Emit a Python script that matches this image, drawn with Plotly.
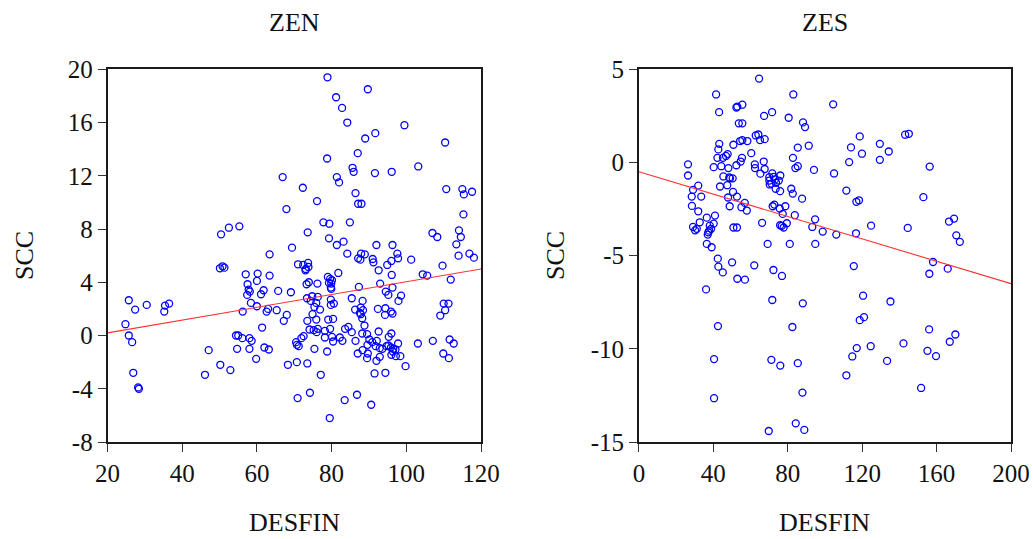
import plotly.graph_objects as go

# ZEN panel: DESFIN vs SCC
zen_desfin = [
    66.9, 67.9, 50.4, 52.5, 55.3, 69.4, 63.4,
    78.9, 89.7, 81.2, 82.8, 84.2, 99.5, 91.7, 89.0, 110.4, 87.0, 78.8, 103.2, 85.6,
    85.9, 91.6, 96.1, 81.4, 82.0, 72.3, 110.7, 115.0, 115.4, 117.6, 86.4, 76.1,
    87.1, 88.0, 115.3, 77.8, 79.4, 84.9, 73.6, 107.0, 108.3, 114.1, 114.6, 113.4,
    79.3, 83.2, 81.4, 92.0, 96.3, 84.2, 87.9, 88.9, 97.6, 114.0, 116.9,
    50.1, 50.8, 51.3, 57.0, 60.2, 63.4, 60.0, 57.5, 57.8, 58.1, 57.4, 61.8, 61.1,
    65.7, 69.1, 58.4, 60.0, 63.0, 62.6, 65.3, 56.2, 68.0, 67.2, 25.7, 27.4, 30.5,
    35.4, 36.5, 35.2, 24.8, 25.7, 26.6, 61.4, 54.4, 55.0, 56.1, 58.0, 58.6, 47.1,
    54.7, 58.0, 62.0, 63.2, 59.8, 50.2, 52.9, 46.1, 68.3, 26.9, 28.2, 28.4,
    87.1, 87.7, 91.0, 91.2, 97.8, 96.0, 94.9, 101.3, 118.1, 109.7, 71.0, 72.4,
    73.7, 73.8, 73.1, 73.0, 81.8, 92.6, 96.1, 104.4, 105.6, 111.9, 79.0, 79.6,
    80.1, 79.3, 79.9, 79.8, 79.9, 73.3, 73.9, 76.2, 87.3, 93.0, 96.3, 94.5, 95.2,
    98.6, 97.9, 73.4, 74.8, 76.3, 74.4, 75.9, 75.4, 76.9, 79.8, 80.6, 79.8, 85.4,
    88.3, 86.3, 87.8, 88.4, 87.6, 87.8, 88.2, 92.4, 94.4, 95.9, 94.3, 96.3, 110.0,
    111.3, 110.4, 109.1, 74.9, 73.5, 75.9, 79.1, 80.4, 88.8, 74.1, 75.2, 76.3,
    76.0, 78.2, 79.6, 83.6, 84.5, 85.4, 88.2, 89.5, 92.6, 96.0, 95.3, 78.2, 80.1,
    80.4, 82.2, 82.9, 72.5, 71.9, 70.5, 70.7, 71.2, 86.4, 90.1, 90.9, 92.1, 89.6,
    91.8, 92.9, 93.6, 94.7, 95.2, 95.9, 96.5, 97.1, 97.8, 103.1, 107.1, 111.6,
    112.7, 75.4, 78.8, 88.3, 87.0, 89.7, 89.5, 92.0, 92.9, 96.0, 97.2, 98.4, 96.4,
    109.9, 111.4, 70.7, 73.5, 99.8, 77.1, 91.5, 94.4, 70.9, 74.2, 83.5, 86.8,
    90.6, 79.5,
]
zen_scc = [
    11.9, 9.5, 7.6, 8.1, 8.2, 6.6, 6.1,
    19.4, 18.5, 17.9, 17.1, 16.0, 15.8, 15.2, 14.8, 14.5, 13.7, 13.3, 12.7, 12.6,
    12.3, 12.2, 12.3, 11.9, 11.5, 11.1, 11.0, 11.0, 10.6, 10.8, 10.7, 10.1,
    9.9, 9.9, 9.1, 8.5, 8.4, 8.5, 7.75, 7.7, 7.4, 7.9, 7.4, 6.85,
    7.3, 7.05, 6.8, 6.8, 6.8, 6.15, 6.15, 6.1, 6.15, 6.0, 6.15,
    5.05, 5.2, 5.1, 4.6, 4.65, 4.5, 4.1, 3.85, 3.45, 3.3, 3.05, 3.4, 3.1,
    3.35, 3.25, 2.45, 2.2, 2.0, 1.8, 1.9, 1.8, 1.55, 1.1, 2.65, 1.95, 2.3,
    2.25, 2.4, 1.8, 0.85, 0.0, -0.5, 0.6, 0.0, 0.0, -0.2, -0.2, -0.4, -1.1,
    -1.0, -1.0, -0.9, -1.05, -1.75, -2.2, -2.6, -2.95, -2.2, -2.8, -3.9, -4.0,
    5.8, 5.7, 5.75, 5.5, 5.8, 5.6, 5.3, 5.7, 5.85, 5.25, 5.35, 5.3,
    5.45, 5.15, 5.0, 4.9, 4.7, 4.9, 4.55, 4.6, 4.5, 4.2, 4.4, 4.25,
    4.15, 3.95, 3.9, 3.6, 3.5, 3.85, 4.0, 3.9, 3.65, 3.9, 3.6, 3.3, 3.05,
    3.0, 2.6, 2.8, 2.95, 2.9, 2.6, 2.45, 2.15, 1.95, 2.7, 2.4, 2.3, 2.8,
    2.6, 1.95, 2.1, 1.9, 1.7, 1.6, 1.3, 2.0, 2.05, 1.8, 1.55, 1.65, 2.4,
    2.4, 1.9, 1.5, 1.6, 1.1, 1.2, 1.2, 1.25, 0.75, 0.45, 0.4, 0.5,
    0.25, 0.35, 0.5, 0.5, 0.65, 0.25, 0.15, 0.1, 0.3, 0.15, -0.1, -0.15, -0.1,
    -0.45, -0.15, -0.4, -0.05, -0.2, -0.5, -0.7, -0.8, -0.4, -0.3, -0.5, -0.4, -0.7,
    -0.8, -0.95, -1.0, -0.8, -0.75, -0.9, -1.0, -1.05, -0.6, -0.6, -0.4, -0.3,
    -0.6, -1.0, -1.2, -1.1, -1.35, -1.35, -1.7, -1.9, -1.6, -1.45, -1.55, -1.55, -1.2,
    -1.35, -1.7, -2.0, -2.1, -2.3, -2.95, -2.85, -2.8, -4.7, -4.3, -4.85, -4.45,
    -5.2, -6.2,
]

# ZES panel: DESFIN vs SCC
zes_desfin = [
    64.6, 41.5, 83.0, 52.4, 52.9, 55.6, 43.1, 71.6, 67.3, 80.5, 88.2, 89.3, 53.7,
    55.6, 62.8, 64.2, 65.1, 67.6, 54.4, 55.6, 58.3, 43.2, 42.7, 50.8, 85.4, 91.3,
    60.4, 42.2, 45.2, 46.8, 47.7, 55.4, 54.7, 82.8, 26.4, 26.4, 40.2, 44.3, 52.4,
    62.3, 62.4, 67.1, 67.6, 48.1, 84.1, 85.4, 94.1, 65.3, 45.4, 48.6, 49.0, 50.4,
    71.7, 70.1, 72.5, 76.0, 75.2, 70.1, 71.2, 73.2, 73.7, 70.3,
    31.9, 29.1, 28.4, 33.5, 43.6, 47.5, 73.5, 75.9, 81.9, 82.7, 50.6, 47.9, 52.7,
    87.7, 28.5, 31.9, 48.8, 55.1, 56.9, 58.0, 71.9, 72.8, 75.7, 78.7, 77.3, 83.8,
    36.5, 40.9, 32.7, 29.1, 30.2, 31.1, 38.1, 38.8, 40.2, 37.3, 37.0, 37.8, 50.8,
    52.7, 66.2, 75.9, 76.8, 77.8, 79.5, 93.2, 98.8, 94.7, 36.5, 39.1, 69.2, 81.1,
    94.8,
    104.4, 118.7, 143.1, 145.1, 114.0, 129.5, 134.3, 119.9, 113.0, 129.5, 104.9,
    156.3, 111.5, 116.9, 118.3, 152.9, 166.7, 169.4, 170.6, 172.5, 124.8, 144.5,
    106.1, 116.7,
    42.4, 50.1, 42.7, 45.1, 62.0, 72.3, 76.9, 52.9, 57.0, 36.1, 71.7, 88.1, 42.5,
    82.5, 40.4, 71.2, 76.0, 85.4, 40.4, 87.9, 84.3, 88.9, 69.8,
    115.5, 158.1, 166.0, 156.1, 120.5, 135.2, 118.7, 121.0, 156.0, 170.1, 167.1,
    117.1, 114.7, 124.6, 142.2, 155.1, 159.7, 133.4, 111.5, 151.7,
]
zes_scc = [
    4.5, 3.65, 3.65, 2.95, 3.0, 3.1, 2.7, 2.7, 2.5, 2.4, 2.15, 1.9, 2.1,
    2.1, 1.45, 1.5, 1.2, 1.25, 1.15, 1.2, 1.15, 1.0, 0.7, 0.95, 0.8, 0.9,
    0.5, 0.25, 0.25, 0.35, 0.45, 0.25, 0.05, 0.25, -0.1, -0.7, -0.25, -0.2, -0.15,
    -0.1, -0.3, 0.05, -0.35, -0.3, -0.3, -0.2, -0.4, -0.6, -0.75, -0.8, -0.85, -0.85,
    -0.59, -0.79, -0.77, -0.7, -0.97, -0.97, -1.13, -0.91, -1.09, -1.18,
    -1.24, -1.47, -1.83, -1.83, -1.29, -1.22, -1.41, -1.54, -1.41, -1.67, -1.58, -1.88, -1.83,
    -1.94, -2.33, -2.62, -2.35, -2.4, -2.17, -2.58, -2.35, -2.26, -2.47, -2.35, -2.76, -2.83,
    -2.96, -2.85, -3.21, -3.46, -3.64, -3.56, -3.39, -3.56, -3.28, -3.75, -3.87, -3.66, -3.49,
    -3.49, -3.24, -3.37, -3.4, -3.49, -3.26, -3.46, -3.71, -3.05, -4.37, -4.55, -4.37, -4.37,
    -4.37,
    3.12, 1.4, 1.49, 1.54, 0.81, 1.0, 0.59, 0.47, 0.02, 0.14, -0.59,
    -0.22, -1.51, -2.11, -2.03, -1.86, -3.17, -3.01, -3.91, -4.26, -3.39, -3.51,
    -3.87, -3.8,
    -5.16, -5.36, -5.59, -5.9, -5.52, -5.77, -6.09, -6.24, -6.29, -6.81, -7.38, -7.56, -8.78,
    -8.83, -10.55, -10.59, -10.9, -10.77, -12.65, -12.35, -14.0, -14.35, -14.41,
    -5.56, -5.34, -5.7, -5.97, -7.15, -7.46, -8.46, -8.3, -8.96, -9.23, -9.62,
    -9.96, -10.41, -9.86, -9.71, -10.11, -10.39, -10.65, -11.42, -12.1,
]

# Fitted regression lines (intercept, slope)
zen_fit = (-0.76, 0.048)
zes_fit = (-0.5, -0.03)

zen_xrange = [20, 120]
zen_yrange = [-8, 20]
zes_xrange = [0, 200]
zes_yrange = [-15, 5]

zen_xticks = [20, 40, 60, 80, 100, 120]
zen_yticks = [-8, -4, 0, 4, 8, 12, 16, 20]
zes_xticks = [0, 40, 80, 120, 160, 200]
zes_yticks = [-15, -10, -5, 0, 5]

FONT = "Liberation Serif"
W, H = 1033, 539

fig = go.Figure()

marker = dict(symbol="circle-open", size=7, color="#0000ff", line=dict(width=1.3, color="#0000ff"))

fig.add_trace(go.Scatter(x=zen_desfin, y=zen_scc, mode="markers", marker=marker,
                         xaxis="x", yaxis="y", showlegend=False))
fig.add_trace(go.Scatter(x=zes_desfin, y=zes_scc, mode="markers", marker=marker,
                         xaxis="x2", yaxis="y2", showlegend=False))

for fit, xr, xa, ya in [(zen_fit, zen_xrange, "x", "y"), (zes_fit, zes_xrange, "x2", "y2")]:
    b0, b1 = fit
    fig.add_trace(go.Scatter(x=xr, y=[b0 + b1 * v for v in xr], mode="lines",
                             line=dict(color="#ff3030", width=1.1),
                             xaxis=xa, yaxis=ya, showlegend=False))


def tick_text(vals):
    # plain hyphen-minus for negative labels
    return [str(v) for v in vals]


axis_common = dict(
    showline=True, linecolor="#1a1a1a", linewidth=1.6, mirror=True,
    showgrid=False, zeroline=False, automargin=False,
    ticks="outside", ticklen=8, tickwidth=1, tickcolor="#333333",
    tickfont=dict(family=FONT, size=25, color="#111111"),
)

# plot-area pixel boxes
L1, R1 = 107.5, 481.0
L2, R2 = 638.9, 1011.0
TOP, BOT = 69.3, 442.0

fig.update_layout(
    width=W, height=H,
    margin=dict(l=0, r=0, t=0, b=0, pad=0),
    paper_bgcolor="white", plot_bgcolor="white",
    xaxis=dict(domain=[L1 / W, R1 / W], range=zen_xrange, anchor="y",
               tickvals=zen_xticks, ticktext=tick_text(zen_xticks), **axis_common),
    yaxis=dict(domain=[1 - BOT / H, 1 - TOP / H], range=zen_yrange, anchor="x",
               tickvals=zen_yticks, ticktext=tick_text(zen_yticks), **axis_common),
    xaxis2=dict(domain=[L2 / W, R2 / W], range=zes_xrange, anchor="y2",
                tickvals=zes_xticks, ticktext=tick_text(zes_xticks), **axis_common),
    yaxis2=dict(domain=[1 - BOT / H, 1 - TOP / H], range=zes_yrange, anchor="x2",
                tickvals=zes_yticks, ticktext=tick_text(zes_yticks), **axis_common),
)

title_font = dict(family=FONT, size=26, color="#111111")
annotations = []
for name, l, r in [("ZEN", L1, R1), ("ZES", L2, R2)]:
    cx = (l + r) / 2 / W
    annotations.append(dict(text=name, x=cx, y=1 - 23 / H, xref="paper", yref="paper",
                            showarrow=False, font=title_font, xanchor="center", yanchor="middle"))
    annotations.append(dict(text="DESFIN", x=cx, y=1 - 522 / H, xref="paper", yref="paper",
                            showarrow=False, font=title_font, xanchor="center", yanchor="middle",
                            borderpad=0))
for xpx in [24, 555]:
    annotations.append(dict(text="SCC", x=xpx / W, y=1 - 256 / H, xref="paper", yref="paper",
                            showarrow=False, font=title_font, textangle=-90,
                            xanchor="center", yanchor="middle"))
fig.update_layout(annotations=annotations)

fig.write_html("out.html")
